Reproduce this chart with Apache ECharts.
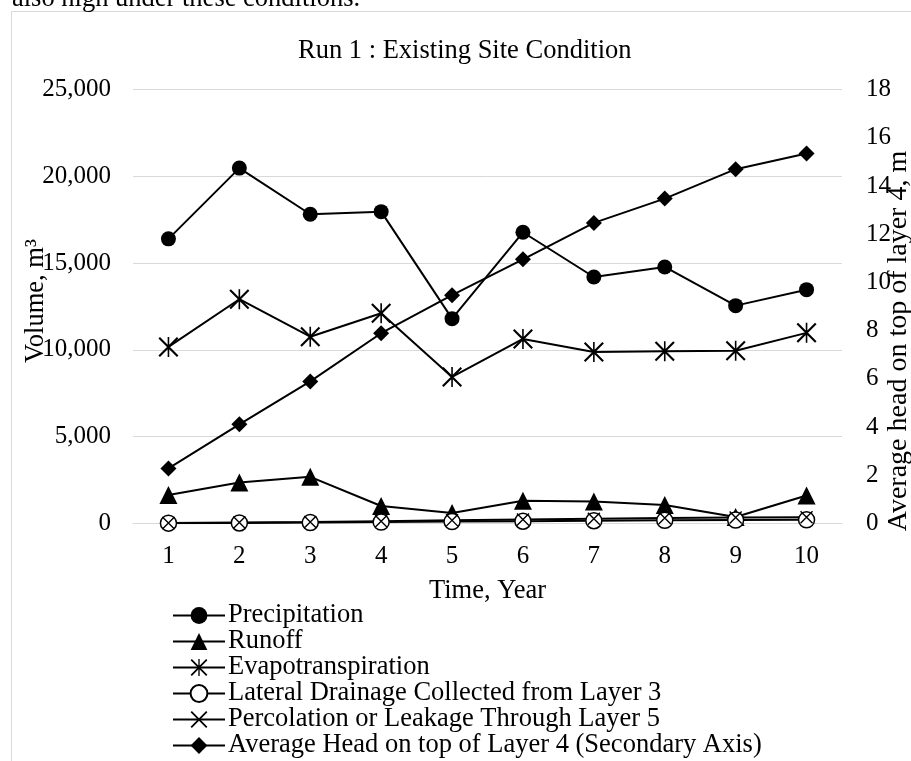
<!DOCTYPE html>
<html>
<head>
<meta charset="utf-8">
<script src="https://cdn.jsdelivr.net/npm/echarts@6/dist/echarts.min.js"></script>
<style>html,body{margin:0;padding:0;background:#fff;}#chart{width:911px;height:761px;}</style>
</head>
<body>
<div id="chart"></div>
<script>
const years = ['1','2','3','4','5','6','7','8','9','10'];
const precipitation = [16400, 20480, 17820, 17970, 11800, 16780, 14200, 14780, 12550, 13470];
const runoff = [1630, 2350, 2680, 1000, 600, 1300, 1250, 1060, 360, 1600];
const evapotranspiration = [10170, 12920, 10760, 12110, 8440, 10630, 9880, 9920, 9950, 10980];
const lateralDrainage = [10, 20, 40, 70, 100, 120, 150, 170, 190, 200];
const percolation = [20, 50, 80, 120, 170, 220, 260, 300, 340, 350];
const averageHead = [2.28, 4.11, 5.89, 7.89, 9.47, 10.96, 12.47, 13.48, 14.70, 15.35];
const seriesNames = ['Precipitation', 'Runoff', 'Evapotranspiration', 'Lateral Drainage Collected from Layer 3', 'Percolation or Leakage Through Layer 5', 'Average Head on top of Layer 4 (Secondary Axis)'];
const leftTicks = {min: 0, max: 25000, interval: 5000};
const rightTicks = {min: 0, max: 18, interval: 2};

const FONT = '"Liberation Serif", "Times New Roman", serif';
const FS = 25;
const FT = 26.5;
const starPath = 'path://M0,1.5 L1.5,0 L20,18.5 L18.5,20 Z M18.5,0 L20,1.5 L1.5,20 L0,18.5 Z M9.2,0 L10.8,0 L10.8,20 L9.2,20 Z';
const crossPath = 'path://M0,1.5 L1.5,0 L20,18.5 L18.5,20 Z M18.5,0 L20,1.5 L1.5,20 L0,18.5 Z';

function mk(name, data, symbol, size, extra) {
  return Object.assign({
    name: name, type: 'line', data: data, symbol: symbol, symbolSize: size,
    lineStyle: {color: '#000', width: 2},
    itemStyle: {color: '#000'},
    animation: false
  }, extra || {});
}

const chart = echarts.init(document.getElementById('chart'), null, {renderer: 'canvas'});
chart.setOption({
  backgroundColor: '#fff',
  animation: false,
  textStyle: {fontFamily: FONT, color: '#000'},
  title: {
    text: 'Run 1 : Existing Site Condition', left: 293, top: 33,
    textStyle: {fontFamily: FONT, fontSize: FT, fontWeight: 'normal', color: '#000'}
  },
  graphic: [
    {type: 'rect', shape: {x: 11.5, y: 11.5, width: 1000, height: 1000}, style: {fill: 'none', stroke: '#d9d9d9', lineWidth: 1}, z: -1},
    {type: 'text', x: 12, y: -1, style: {text: 'also high under these conditions.', font: FT + 'px ' + FONT, fill: '#000', verticalAlign: 'middle'}},
    {type: 'text', x: 36, y: 301, rotation: Math.PI / 2, style: {text: 'Volume, m\u00b3', font: FT + 'px ' + FONT, fill: '#000', align: 'center', verticalAlign: 'middle'}},
    {type: 'text', x: 899, y: 341, rotation: Math.PI / 2, style: {text: 'Average head on top of layer 4, m', font: '28px ' + FONT, fill: '#000', align: 'center', verticalAlign: 'middle'}}
  ],
  grid: {left: 133, right: 69, top: 89.7, bottom: 237.7, containLabel: false},
  legend: {
    orient: 'vertical', left: 172, top: 602, height: 200, padding: 0,
    itemWidth: 52, itemHeight: 21, itemGap: -1,
    textStyle: {fontFamily: FONT, fontSize: FT, color: '#000', padding: [0, 0, 0, -2]},
    data: seriesNames
  },
  xAxis: {
    type: 'category', data: years, boundaryGap: true,
    name: 'Time, Year', nameLocation: 'middle', nameGap: 54,
    nameTextStyle: {fontFamily: FONT, fontSize: FT, color: '#000'},
    axisLine: {lineStyle: {color: '#d9d9d9', width: 1}},
    axisTick: {show: false},
    axisLabel: {fontFamily: FONT, fontSize: FS, color: '#000', margin: 21}
  },
  yAxis: [
    {
      type: 'value', min: leftTicks.min, max: leftTicks.max, interval: leftTicks.interval,
      axisLine: {show: false}, axisTick: {show: false},
      splitLine: {lineStyle: {color: '#d9d9d9', width: 1}},
      axisLabel: {fontFamily: FONT, fontSize: FS, color: '#000', margin: 22,
        formatter: v => v.toLocaleString('en-US')}
    },
    {
      type: 'value', min: rightTicks.min, max: rightTicks.max, interval: rightTicks.interval,
      position: 'right',
      axisLine: {show: false}, axisTick: {show: false}, splitLine: {show: false},
      axisLabel: {fontFamily: FONT, fontSize: FS, color: '#000', margin: 24}
    }
  ],
  series: [
    mk(seriesNames[0], precipitation, 'circle', 15),
    mk(seriesNames[1], runoff, 'triangle', 18),
    mk(seriesNames[2], evapotranspiration, starPath, 20),
    mk(seriesNames[3], lateralDrainage, 'circle', 16, {itemStyle: {color: '#fff', borderColor: '#000', borderWidth: 1.5}}),
    mk(seriesNames[4], percolation, crossPath, 13),
    mk(seriesNames[5], averageHead, 'diamond', 16, {yAxisIndex: 1})
  ]
});
</script>
</body>
</html>
